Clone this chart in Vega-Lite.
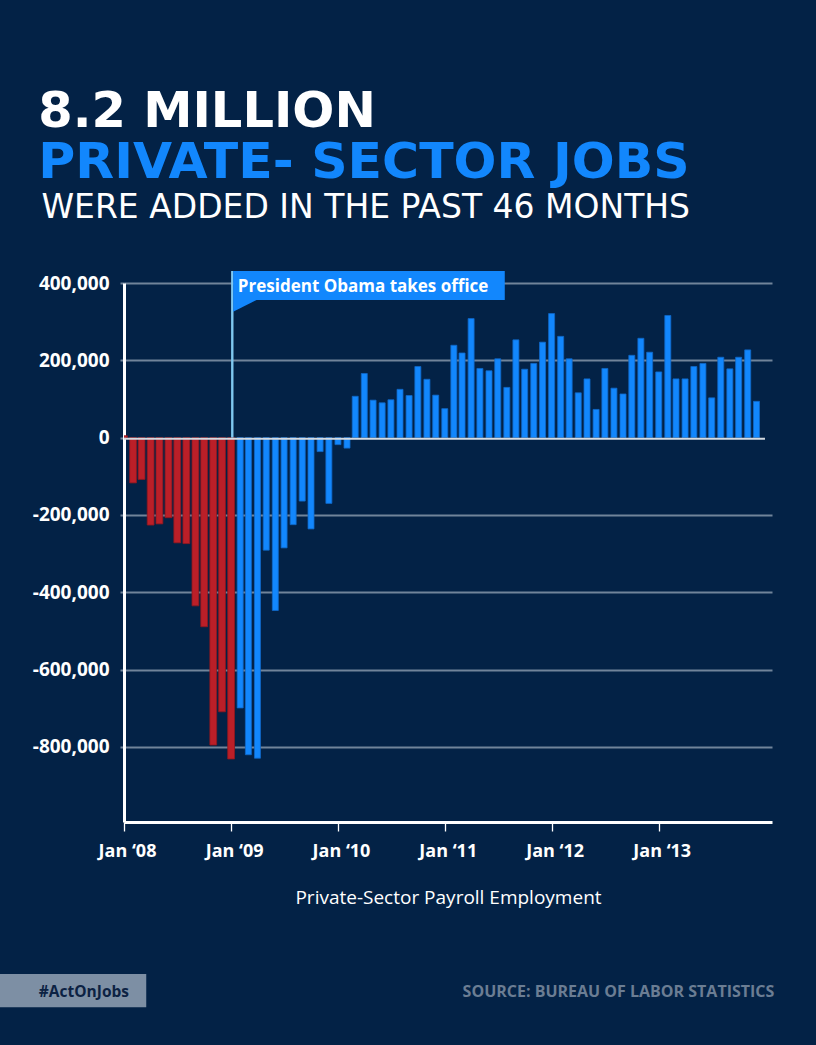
{
  "$schema": "https://vega.github.io/schema/vega-lite/v6.json",
  "width": 648,
  "height": 539,
  "autosize": {"type": "none"},
  "padding": {"left": 124, "top": 283, "right": 44, "bottom": 223},
  "background": "#032246",
  "config": {"view": {"stroke": null}},
  "layer": [
    {
      "data": {"values": [
        {"month": "2008-01-01", "jobs": 5000, "period": "Before Obama"},
        {"month": "2008-02-01", "jobs": -117000, "period": "Before Obama"},
        {"month": "2008-03-01", "jobs": -108000, "period": "Before Obama"},
        {"month": "2008-04-01", "jobs": -226000, "period": "Before Obama"},
        {"month": "2008-05-01", "jobs": -223000, "period": "Before Obama"},
        {"month": "2008-06-01", "jobs": -207000, "period": "Before Obama"},
        {"month": "2008-07-01", "jobs": -272000, "period": "Before Obama"},
        {"month": "2008-08-01", "jobs": -274000, "period": "Before Obama"},
        {"month": "2008-09-01", "jobs": -435000, "period": "Before Obama"},
        {"month": "2008-10-01", "jobs": -489000, "period": "Before Obama"},
        {"month": "2008-11-01", "jobs": -795000, "period": "Before Obama"},
        {"month": "2008-12-01", "jobs": -709000, "period": "Before Obama"},
        {"month": "2009-01-01", "jobs": -831000, "period": "Before Obama"},
        {"month": "2009-02-01", "jobs": -699000, "period": "Obama"},
        {"month": "2009-03-01", "jobs": -820000, "period": "Obama"},
        {"month": "2009-04-01", "jobs": -829000, "period": "Obama"},
        {"month": "2009-05-01", "jobs": -291000, "period": "Obama"},
        {"month": "2009-06-01", "jobs": -447000, "period": "Obama"},
        {"month": "2009-07-01", "jobs": -285000, "period": "Obama"},
        {"month": "2009-08-01", "jobs": -225000, "period": "Obama"},
        {"month": "2009-09-01", "jobs": -164000, "period": "Obama"},
        {"month": "2009-10-01", "jobs": -236000, "period": "Obama"},
        {"month": "2009-11-01", "jobs": -36000, "period": "Obama"},
        {"month": "2009-12-01", "jobs": -170000, "period": "Obama"},
        {"month": "2010-01-01", "jobs": -18000, "period": "Obama"},
        {"month": "2010-02-01", "jobs": -27000, "period": "Obama"},
        {"month": "2010-03-01", "jobs": 107000, "period": "Obama"},
        {"month": "2010-04-01", "jobs": 166000, "period": "Obama"},
        {"month": "2010-05-01", "jobs": 97000, "period": "Obama"},
        {"month": "2010-06-01", "jobs": 90000, "period": "Obama"},
        {"month": "2010-07-01", "jobs": 98000, "period": "Obama"},
        {"month": "2010-08-01", "jobs": 125000, "period": "Obama"},
        {"month": "2010-09-01", "jobs": 109000, "period": "Obama"},
        {"month": "2010-10-01", "jobs": 184000, "period": "Obama"},
        {"month": "2010-11-01", "jobs": 151000, "period": "Obama"},
        {"month": "2010-12-01", "jobs": 110000, "period": "Obama"},
        {"month": "2011-01-01", "jobs": 75000, "period": "Obama"},
        {"month": "2011-02-01", "jobs": 239000, "period": "Obama"},
        {"month": "2011-03-01", "jobs": 219000, "period": "Obama"},
        {"month": "2011-04-01", "jobs": 308000, "period": "Obama"},
        {"month": "2011-05-01", "jobs": 179000, "period": "Obama"},
        {"month": "2011-06-01", "jobs": 173000, "period": "Obama"},
        {"month": "2011-07-01", "jobs": 204000, "period": "Obama"},
        {"month": "2011-08-01", "jobs": 130000, "period": "Obama"},
        {"month": "2011-09-01", "jobs": 253000, "period": "Obama"},
        {"month": "2011-10-01", "jobs": 177000, "period": "Obama"},
        {"month": "2011-11-01", "jobs": 192000, "period": "Obama"},
        {"month": "2011-12-01", "jobs": 247000, "period": "Obama"},
        {"month": "2012-01-01", "jobs": 321000, "period": "Obama"},
        {"month": "2012-02-01", "jobs": 262000, "period": "Obama"},
        {"month": "2012-03-01", "jobs": 204000, "period": "Obama"},
        {"month": "2012-04-01", "jobs": 116000, "period": "Obama"},
        {"month": "2012-05-01", "jobs": 152000, "period": "Obama"},
        {"month": "2012-06-01", "jobs": 73000, "period": "Obama"},
        {"month": "2012-07-01", "jobs": 179000, "period": "Obama"},
        {"month": "2012-08-01", "jobs": 128000, "period": "Obama"},
        {"month": "2012-09-01", "jobs": 113000, "period": "Obama"},
        {"month": "2012-10-01", "jobs": 213000, "period": "Obama"},
        {"month": "2012-11-01", "jobs": 257000, "period": "Obama"},
        {"month": "2012-12-01", "jobs": 221000, "period": "Obama"},
        {"month": "2013-01-01", "jobs": 170000, "period": "Obama"},
        {"month": "2013-02-01", "jobs": 316000, "period": "Obama"},
        {"month": "2013-03-01", "jobs": 152000, "period": "Obama"},
        {"month": "2013-04-01", "jobs": 152000, "period": "Obama"},
        {"month": "2013-05-01", "jobs": 184000, "period": "Obama"},
        {"month": "2013-06-01", "jobs": 192000, "period": "Obama"},
        {"month": "2013-07-01", "jobs": 103000, "period": "Obama"},
        {"month": "2013-08-01", "jobs": 208000, "period": "Obama"},
        {"month": "2013-09-01", "jobs": 178000, "period": "Obama"},
        {"month": "2013-10-01", "jobs": 208000, "period": "Obama"},
        {"month": "2013-11-01", "jobs": 227000, "period": "Obama"},
        {"month": "2013-12-01", "jobs": 94000, "period": "Obama"}
      ]},
      "mark": {"type": "bar", "clip": true, "strokeWidth": 0.8},
      "encoding": {
        "x": {
          "field": "month",
          "type": "temporal",
          "scale": {"type": "utc", "nice": false, "padding": 0, "domain": [{"year": 2008, "month": 1, "date": 1, "utc": true}, {"year": 2014, "month": 1, "date": 23, "utc": true}]},
          "axis": {
            "values": [
              {"year": 2008, "month": 1, "date": 1, "utc": true},
              {"year": 2009, "month": 1, "date": 1, "utc": true},
              {"year": 2010, "month": 1, "date": 1, "utc": true},
              {"year": 2011, "month": 1, "date": 1, "utc": true},
              {"year": 2012, "month": 1, "date": 1, "utc": true},
              {"year": 2013, "month": 1, "date": 1, "utc": true}
            ],
            "labelExpr": "utcFormat(datum.value, '%b ‘%y')",
            "labelFont": "Open Sans",
            "labelFontSize": 18,
            "labelFontWeight": "bold",
            "labelColor": "#ffffff",
            "labelPadding": 11,
            "labelOffset": 3,
            "labelFlush": false,
            "labelOverlap": false,
            "tickColor": "#ffffff",
            "tickSize": 9,
            "tickWidth": 1.3,
            "domainColor": "#ffffff",
            "domainWidth": 3,
            "grid": false,
            "title": "Private-Sector Payroll Employment",
            "titleFont": "Open Sans",
            "titleFontSize": 19,
            "titleFontWeight": "normal",
            "titleColor": "#ffffff",
            "titlePadding": 28
          }
        },
        "y": {
          "field": "jobs",
          "type": "quantitative",
          "stack": null,
          "scale": {"domain": [-994000, 400000], "nice": false},
          "axis": {
            "values": [-800000, -600000, -400000, -200000, 0, 200000, 400000],
            "labelExpr": "replace(format(datum.value, ','), '−', '-')",
            "labelFont": "Open Sans",
            "labelFontSize": 19,
            "labelFontWeight": "bold",
            "labelColor": "#ffffff",
            "labelPadding": 11,
            "tickSize": 4,
            "tickColor": "#71849a",
            "tickWidth": 2,
            "domainColor": "#ffffff",
            "domainWidth": 3,
            "grid": true,
            "gridColor": {"condition": {"test": "datum.value === 0", "value": "transparent"}, "value": "#71849a"},
            "gridWidth": 2,
            "title": null
          }
        },
        "y2": {"datum": 0},
        "color": {"field": "period", "type": "nominal", "scale": {"domain": ["Before Obama", "Obama"], "range": ["#bb1f28", "#1287fd"]}, "legend": null},
        "stroke": {"field": "period", "type": "nominal", "scale": {"domain": ["Before Obama", "Obama"], "range": ["#8f1820", "#1068c8"]}, "legend": null},
        "size": {"condition": {"test": "datum.period === 'Before Obama'", "value": 6.8}, "value": 6}
      }
    },
    {
      "data": {"values": [{"baseline": 0}]},
      "mark": {"type": "rule", "color": "#d5dae0", "strokeWidth": 2, "yOffset": 1},
      "encoding": {
        "x": {"datum": {"year": 2008, "month": 1, "date": 1, "utc": true}, "type": "temporal"},
        "x2": {"datum": {"year": 2013, "month": 12, "date": 30, "utc": true}},
        "y": {"field": "baseline", "type": "quantitative"}
      }
    },
    {
      "data": {"values": [{"event": "President Obama takes office"}]},
      "mark": {"type": "rule", "color": "#7fc8f0", "strokeWidth": 2.4},
      "encoding": {
        "x": {"datum": {"year": 2009, "month": 1, "date": 5, "utc": true}, "type": "temporal"},
        "y": {"datum": 431000, "type": "quantitative"},
        "y2": {"datum": 0}
      }
    },
    {
      "data": {"values": [{"event": "President Obama takes office"}]},
      "mark": {"type": "rect", "color": "#1287fd"},
      "encoding": {
        "x": {"datum": {"year": 2009, "month": 1, "date": 8, "utc": true}, "type": "temporal"},
        "x2": {"datum": {"year": 2011, "month": 7, "date": 25, "utc": true}},
        "y": {"datum": 431000, "type": "quantitative"},
        "y2": {"datum": 356000}
      }
    },
    {
      "data": {"values": [{"event": "President Obama takes office"}]},
      "mark": {"type": "point", "shape": "M0,0L0,0.5L1,0Z", "filled": true, "color": "#1287fd", "opacity": 1, "size": 2190, "strokeWidth": 0},
      "encoding": {
        "x": {"datum": {"year": 2009, "month": 1, "date": 8, "utc": true}, "type": "temporal"},
        "y": {"datum": 356000, "type": "quantitative"}
      }
    },
    {
      "data": {"values": [{"label": "President Obama takes office"}]},
      "mark": {"type": "text", "font": "Open Sans", "fontSize": 17, "fontWeight": "bold", "color": "#ffffff", "align": "left", "baseline": "alphabetic"},
      "encoding": {
        "x": {"datum": {"year": 2009, "month": 1, "date": 24, "utc": true}, "type": "temporal"},
        "y": {"datum": 377500, "type": "quantitative"},
        "text": {"field": "label"}
      }
    },
    {
      "data": {"values": [{"label": "8.2 MILLION"}]},
      "mark": {"type": "text", "font": "DejaVu Sans", "fontSize": 49.5, "fontWeight": "bold", "color": "#ffffff", "align": "left", "baseline": "alphabetic"},
      "encoding": {
        "x": {"datum": {"year": 2007, "month": 3, "date": 14, "utc": true}, "type": "temporal"},
        "y": {"datum": 803000, "type": "quantitative"},
        "text": {"field": "label"}
      }
    },
    {
      "data": {"values": [{"label": "PRIVATE- SECTOR JOBS"}]},
      "mark": {"type": "text", "font": "DejaVu Sans", "fontSize": 50.5, "fontWeight": "bold", "color": "#1287fd", "align": "left", "baseline": "alphabetic"},
      "encoding": {
        "x": {"datum": {"year": 2007, "month": 3, "date": 14, "utc": true}, "type": "temporal"},
        "y": {"datum": 670770, "type": "quantitative"},
        "text": {"field": "label"}
      }
    },
    {
      "data": {"values": [{"label": "WERE ADDED IN THE PAST 46 MONTHS"}]},
      "mark": {"type": "text", "font": "DejaVu Sans", "fontSize": 33, "fontWeight": "normal", "color": "#ffffff", "align": "left", "baseline": "alphabetic"},
      "encoding": {
        "x": {"datum": {"year": 2007, "month": 3, "date": 25, "utc": true}, "type": "temporal"},
        "y": {"datum": 567320, "type": "quantitative"},
        "text": {"field": "label"}
      }
    },
    {
      "data": {"values": [{"tag": "#ActOnJobs"}]},
      "mark": {"type": "rect", "color": "#7d8fa4"},
      "encoding": {
        "x": {"datum": {"year": 2006, "month": 10, "date": 1, "utc": true}, "type": "temporal"},
        "x2": {"datum": {"year": 2008, "month": 3, "date": 17, "utc": true}},
        "y": {"datum": -1387000, "type": "quantitative"},
        "y2": {"datum": -1473000}
      }
    },
    {
      "data": {"values": [{"tag": "#ActOnJobs"}]},
      "mark": {"type": "text", "font": "Open Sans", "fontSize": 15.5, "fontWeight": "bold", "color": "#0c2243", "align": "left", "baseline": "alphabetic"},
      "encoding": {
        "x": {"datum": {"year": 2007, "month": 3, "date": 16, "utc": true}, "type": "temporal"},
        "y": {"datum": -1445800, "type": "quantitative"},
        "text": {"field": "tag"}
      }
    },
    {
      "data": {"values": [{"source": "SOURCE: BUREAU OF LABOR STATISTICS"}]},
      "mark": {"type": "text", "font": "Open Sans", "fontSize": 16, "fontWeight": "bold", "color": "#6b7d93", "align": "right", "baseline": "alphabetic"},
      "encoding": {
        "x": {"datum": {"year": 2014, "month": 1, "date": 31, "utc": true}, "type": "temporal"},
        "y": {"datum": -1445800, "type": "quantitative"},
        "text": {"field": "source"}
      }
    }
  ]
}
